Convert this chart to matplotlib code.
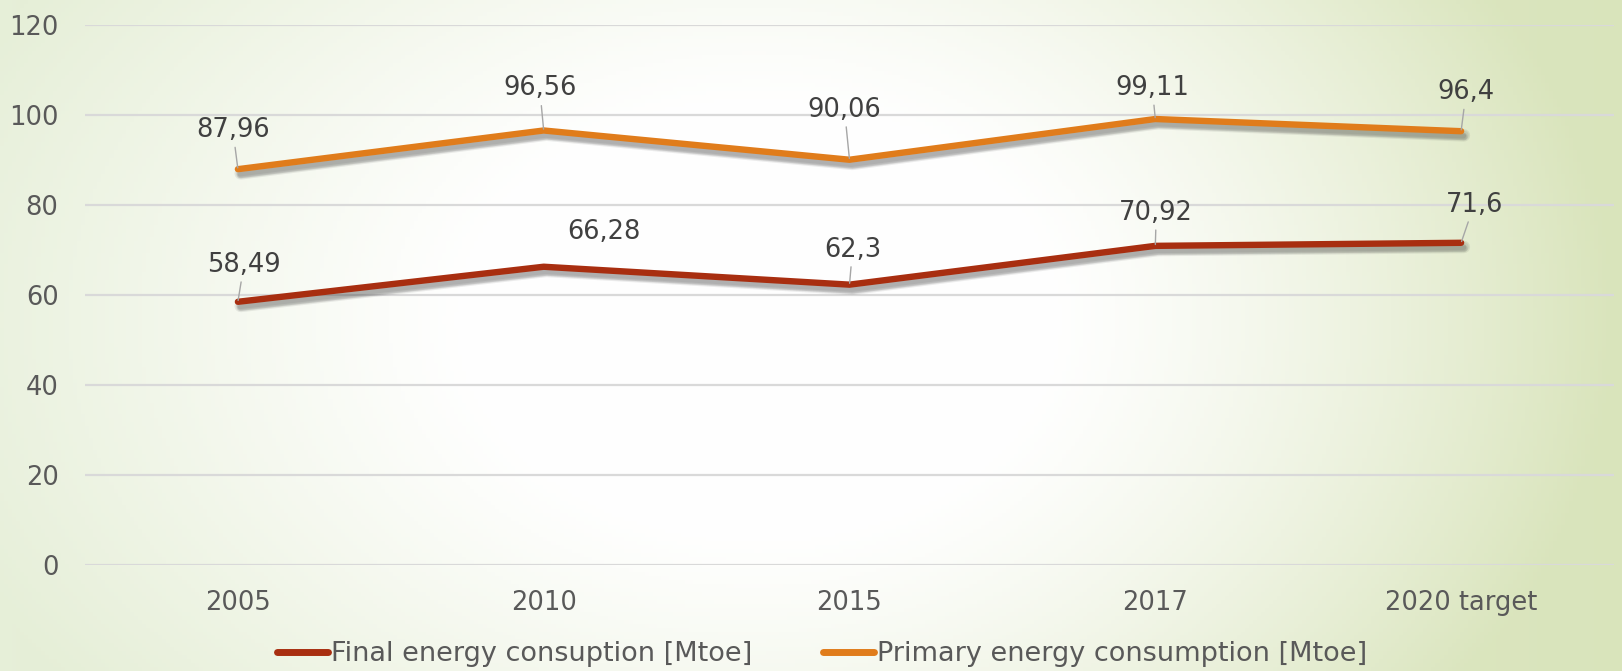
import numpy as np
import matplotlib
matplotlib.use("Agg")
import matplotlib.pyplot as plt
import matplotlib.patheffects as pe
from matplotlib.colors import to_rgb

categories = ["2005", "2010", "2015", "2017", "2020 target"]
final_energy = [58.49, 66.28, 62.3, 70.92, 71.6]
primary_energy = [87.96, 96.56, 90.06, 99.11, 96.4]
final_labels = ["58,49", "66,28", "62,3", "70,92", "71,6"]
primary_labels = ["87,96", "96,56", "90,06", "99,11", "96,4"]
series_names = ["Final energy consuption [Mtoe]", "Primary energy consumption [Mtoe]"]

# label offsets in pixels (dx, dy up) from each point
primary_off = [(-5, 39), (-4, 42), (-5, 50), (-3, 31), (5, 39)]
final_off = [(6, 37), (60, 35), (3, 35), (1, 33), (13, 38)]

C_FINAL = "#a82e10"
C_PRIMARY = "#e07c1b"
TXT = "#595959"

W, H = 1622, 671
fig = plt.figure(figsize=(W / 100, H / 100), dpi=100)

# background gradient (white centre, green edges)
bg = fig.add_axes([0, 0, 1, 1], zorder=-10)
xx, yy = np.meshgrid(np.linspace(0, W, 400), np.linspace(0, H, 170))
r = np.sqrt(((xx - 760) / 950) ** 2 + ((yy - 320) / 700) ** 2)
w = np.clip((r - 0.3) / 0.6, 0, 1) ** 1.2
left = np.array(to_rgb("#e6efd8"))
right = np.array(to_rgb("#d9e4bb"))
fx = (xx / W)[..., None]
edge = left * (1 - fx) + right * fx
img = np.ones(3) * (1 - w[..., None]) + edge * w[..., None]
img = img * 0.99 + 0.01 * np.array(to_rgb("#f4f6ee"))
bg.imshow(img, aspect="auto", extent=[0, 1, 0, 1], origin="upper")
bg.axis("off")

ax = fig.add_axes([85 / W, 1 - 565 / H, (1614 - 85) / W, 540 / H])
ax.set_facecolor("none")
x = np.arange(len(categories))

ax.set_ylim(0, 120)
ax.set_xlim(-0.5, len(categories) - 0.5)
ax.set_yticks(range(0, 121, 20))
ax.set_xticks(x)
ax.set_xticklabels(categories)
for s in ax.spines.values():
    s.set_visible(False)
ax.tick_params(length=0, labelsize=18.5, labelcolor=TXT)
ax.tick_params(axis="y", pad=19)
ax.tick_params(axis="x", pad=18)
ax.grid(axis="y", color="#d9d9d9", lw=1.6)
ax.set_axisbelow(True)

# soft blurred shadow from several faint layers
shadow = [pe.SimpleLineShadow(offset=(ox, oy), shadow_color="#333333", alpha=0.09,
                              linewidth=lw)
          for ox, oy, lw in [(2, -3, 9), (2, -3, 7), (2, -4, 5.5), (1.5, -3, 4.5), (2, -4, 4)]]
shadow.append(pe.Normal())
l1, = ax.plot(x, final_energy, color=C_FINAL, lw=4.6, solid_capstyle="round",
              solid_joinstyle="round", path_effects=shadow, label=series_names[0], zorder=3)
l2, = ax.plot(x, primary_energy, color=C_PRIMARY, lw=4.6, solid_capstyle="round",
              solid_joinstyle="round", path_effects=shadow, label=series_names[1], zorder=3)

def put_labels(vals, labels, offs):
    for i, (v, t, (dx, dy)) in enumerate(zip(vals, labels, offs)):
        lead = abs(dx) < 30
        ax.annotate(t, (i, v), xytext=(dx * 0.72, dy * 0.72), textcoords="offset points",
                    ha="center", va="center", fontsize=18.5, color="#404040", zorder=5,
                    arrowprops=dict(arrowstyle="-", color="#a6a6a6", lw=1,
                                    shrinkA=1, shrinkB=1) if lead else None)

put_labels(primary_energy, primary_labels, primary_off)
put_labels(final_energy, final_labels, final_off)

leg = fig.legend(loc="center", bbox_to_anchor=(822 / W, 1 - 654 / H), ncol=2,
                 frameon=False, fontsize=19.5, handlelength=1.9, handletextpad=0.1,
                 columnspacing=2.6, labelcolor=TXT)
for h in leg.get_lines():
    h.set_path_effects([])
    h.set_linewidth(5)
    h.set_solid_capstyle("round")

fig.savefig("out.png", dpi=100)
